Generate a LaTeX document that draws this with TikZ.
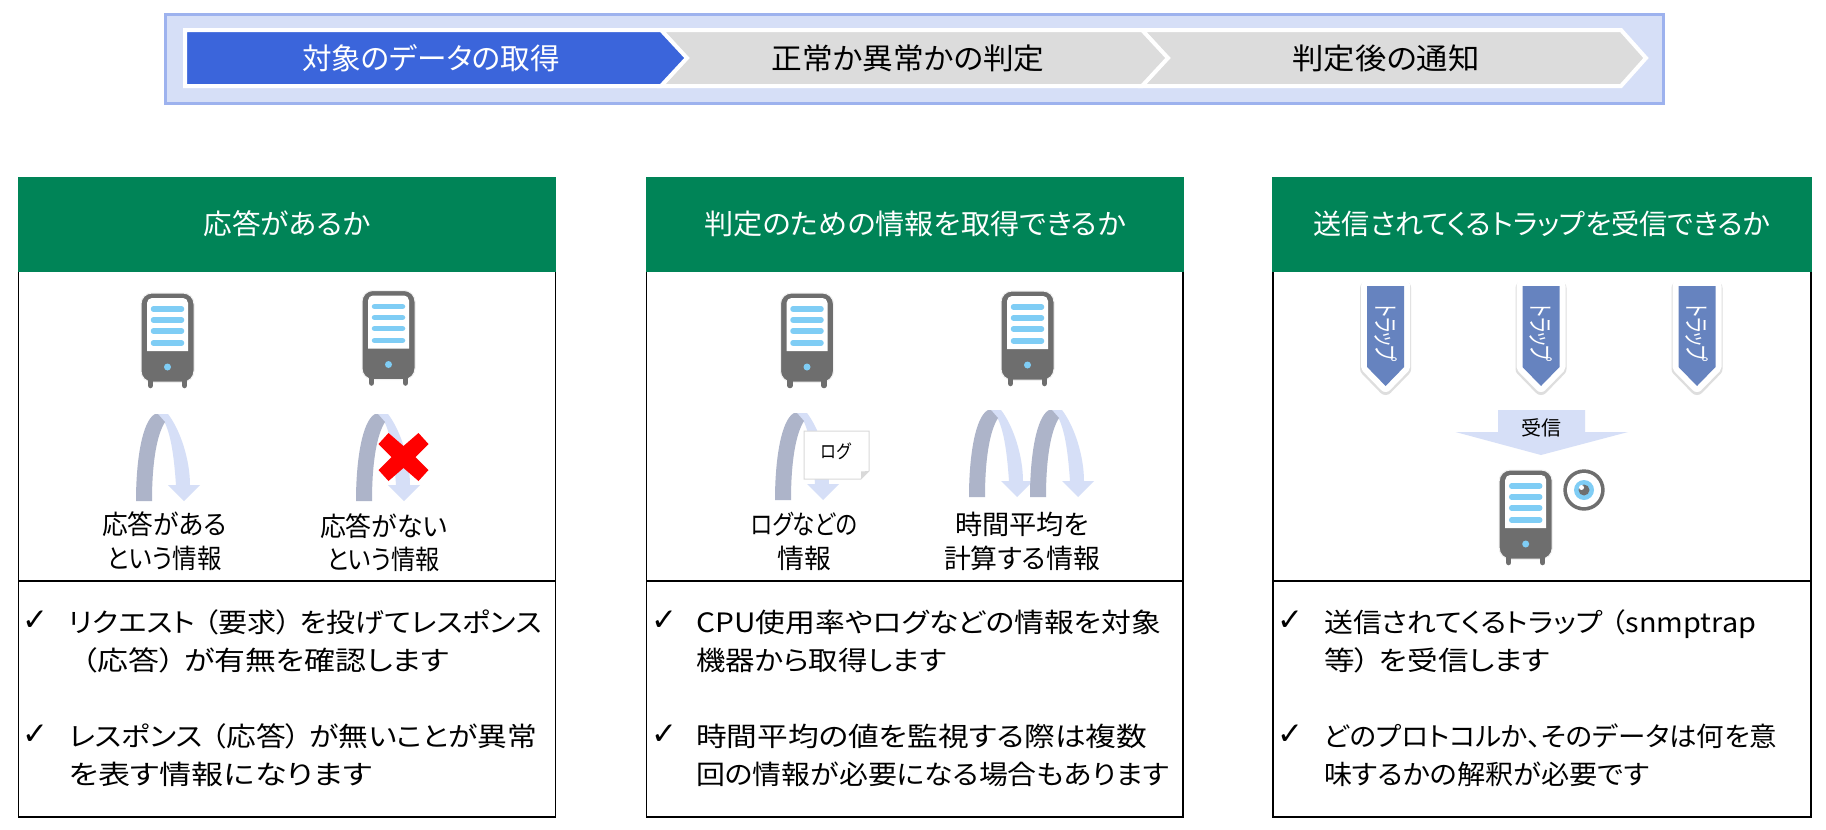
\documentclass[tikz,border=0pt]{standalone}
\usepackage{graphicx}
\usepackage{fontspec}
\setmainfont[RawFeature={+palt}]{Noto Sans CJK JP}
\newfontfamily\symfont{DejaVu Sans}
\definecolor{bandfill}{HTML}{D6DFF7}
\definecolor{bandline}{HTML}{9DB2EE}
\definecolor{chevblue}{HTML}{3B65DB}
\definecolor{chevgray}{HTML}{DCDCDC}
\definecolor{headgreen}{HTML}{008457}
\definecolor{srvgray}{HTML}{6E6E6E}
\definecolor{srvblue}{HTML}{7FCDF5}
\definecolor{arcdark}{HTML}{ADB4C9}
\definecolor{ribblue}{HTML}{6683BF}
\newsavebox\fitbox
\newcommand\fit[2]{\sbox\fitbox{#2}\pgfmathsetmacro\fitr{#1/\the\wd\fitbox}\scalebox{\fitr}[1]{\usebox\fitbox}}
\newcommand\lp{\hspace{.3em}（}
\newcommand\rp{）\hspace{.3em}}
\tikzset{
  f27/.style={font=\fontsize{26.67}{30}\selectfont,inner sep=0pt,text height=23.5pt,text depth=3.2pt},
  f28/.style={font=\fontsize{28}{32}\selectfont,inner sep=0pt,text height=24.6pt,text depth=3.4pt,text=white},
  f29/.style={font=\fontsize{29.33}{33}\selectfont,inner sep=0pt,text height=25.8pt,text depth=3.5pt},
  f20/.style={font=\fontsize{20}{24}\selectfont,inner sep=0pt,text height=17.6pt,text depth=2.4pt},
  lefttxt/.style={f27,anchor=west},
  chk/.style={font=\symfont\fontsize{31}{34}\selectfont,inner sep=0pt},
  chev/.style={line width=4pt,draw=white,line join=miter},
  panel/.style={draw=black,line width=1.2pt},
  server/.pic={
    \fill[srvgray,draw=black!5,line width=1pt,rounded corners=11pt] (-26.5,0) rectangle (26.5,89);
    \draw[srvgray,line width=5.5pt,line cap=round] (-17,87) -- (-17,92.5) (17,87) -- (17,92.5);
    \fill[white] (-20.5,58) -- (-20.5,10) .. controls (-20.5,7) and (-18,5) .. (-15.5,5) -- (15.5,5) .. controls (18,5) and (20.5,7) .. (20.5,10) -- (20.5,58) -- cycle;
    \draw[srvblue,line width=5.5pt,line cap=round] (-14,16) -- (14,16) (-14,27) -- (14,27) (-14,38) -- (14,38) (-14,50) -- (14,50);
    \fill[srvblue] (0,74) circle[radius=3.5pt];
  },
  uturn/.pic={
    \fill[bandfill] (22,-87) -- (32,-87) .. controls (45,-70) and (54,-40) .. (54,-16) -- (64,-16) -- (48,0) -- (32,-16) -- (40,-16) .. controls (38,-45) and (35,-65) .. (29,-78) -- cycle;
    \fill[arcdark] (0,0) .. controls (0,-40) and (6,-80) .. (19,-87) -- (22,-87) -- (29,-79) .. controls (20,-65) and (16,-35) .. (16,0) -- cycle;
  },
  ribbon/.pic={
    \draw[black!13,line width=14pt,line join=round,fill=black!13] (-18.5,2) -- (18.5,2) -- (18.5,83) -- (0,102) -- (-18.5,83) -- cycle;
    \draw[white,line width=12pt,line join=round] (-18.5,0) -- (18.5,0) -- (18.5,81) -- (0,100) -- (-18.5,81) -- cycle;
    \fill[ribblue] (-18.5,0) -- (18.5,0) -- (18.5,81) -- (0,100) -- (-18.5,81) -- cycle;
  },
}
\begin{document}
\begin{tikzpicture}[x=1pt,y=-1pt]
\useasboundingbox (0,0) rectangle (1826,830);
\fill[white] (0,0) rectangle (1826,830);
% top band
\draw[fill=bandfill,draw=bandline,line width=3pt] (165.5,14.5) rectangle (1663,103);
\fill[chevgray,chev] (1142,30) -- (1621,30) -- (1646,58) -- (1621,86) -- (1142,86) -- (1167,58) -- cycle;
\fill[chevgray,chev] (661,30) -- (1142,30) -- (1168,58) -- (1142,86) -- (661,86) -- (686,58) -- cycle;
\fill[chevblue,chev] (185,30) -- (661,30) -- (687,58) -- (661,86) -- (185,86) -- cycle;
\node[f29,text=white] (c1) at (431,58) {\fit{258}{対象のデータの取得}};
\node[f29] (c2) at (908,58) {\fit{273}{正常か異常かの判定}};
\node[f29] (c3) at (1386,58) {\fit{187}{判定後の通知}};
% panels
\foreach \xa/\xb in {18.6/555.5,646.5/1183,1273/1811}{
  \fill[headgreen] (\xa-.6,177) rectangle (\xb+.6,272);
  \draw[panel] (\xa,272) -- (\xa,817) -- (\xb,817) -- (\xb,272);
  \draw[panel] (\xa,581) -- (\xb,581);
}
\node[f28] (h1) at (287,224) {\fit{166.5}{応答があるか}};
\node[f28] (h2) at (915,224) {\fit{421.5}{判定のための情報を取得できるか}};
\node[f28] (h3) at (1542,224) {\fit{456.5}{送信されてくるトラップを受信できるか}};
% panel 1 graphics
\pic at (167.5,293) {server};
\pic at (388.5,290.5) {server};
\pic at (136,501) {uturn};
\pic at (356,501) {uturn};
\fill[red] (403.5,457) ++(-15,-24) -- ++(15,13) -- ++(15,-13) -- ++(10,11) -- ++(-13,13) -- ++(13,13) -- ++(-10,11) -- ++(-15,-13) -- ++(-15,13) -- ++(-10,-11) -- ++(13,-13) -- ++(-13,-13) -- cycle;
\node[f27] (l1a) at (164.5,524) {\fit{124.6}{応答がある}};
\node[f27] (l1b) at (164.5,558) {\fit{114}{という情報}};
\node[f27] (l2a) at (383.5,526) {\fit{127}{応答がない}};
\node[f27] (l2b) at (383.5,559) {\fit{113}{という情報}};
% panel 2 graphics
\pic at (807,293) {server};
\pic at (1027.5,291) {server};
\pic at (775,500) {uturn};
\pic at (969,497) {uturn};
\pic at (1030,497) {uturn};
\draw[fill=white,draw=black!15,line width=1pt] (804,431) -- (869,431) -- (869,471) -- (861,479) -- (804,479) -- cycle;
\fill[black!15] (869,471) -- (861,471.5) -- (861,479) -- cycle;
\node[f20,font=\fontsize{18.67}{22}\selectfont] (logn) at (836,451) {\fit{30}{ログ}};
\node[f27] (l3a) at (804,524) {\fit{107}{ログなどの}};
\node[f27] (l3b) at (804,558) {\fit{53.6}{情報}};
\node[f27] (l4a) at (1022,524) {\fit{134}{時間平均を}};
\node[f27] (l4b) at (1022,558) {\fit{156}{計算する情報}};
% panel 3 graphics
\foreach \cx/\nm in {1385.6/r1,1541/r2,1697/r3}{
  \pic at (\cx,286) {ribbon};
  \node[rotate=-90,text=white,inner sep=0pt,font=\fontsize{25}{28}\selectfont] (\nm) at (\cx,333) {\fit{58}{トラップ}};
}
\fill[bandfill] (1498,410) -- (1585,410) -- (1585,432) -- (1628,432) -- (1541,455) -- (1455.5,432) -- (1498,432) -- cycle;
\node[f20] (recv) at (1541,428) {\fit{40}{受信}};
\pic at (1525.7,470) {server};
\fill[srvgray] (1584,490) circle[radius=20.7pt];
\fill[white] (1584,490) circle[radius=17pt];
\fill[srvblue] (1584,490) circle[radius=10pt];
\fill[srvgray] (1584,490) circle[radius=5.5pt];
\fill[white] (1581.5,487.5) circle[radius=2.5pt];
% body text
\foreach \cx/\yy/\nm in {35/621/k1,35/735/k2,664/621/k3,664/735/k4,1290/621/k5,1290/735/k6}{
  \node[chk] (\nm) at (\cx,\yy) {✓};
}
\node[lefttxt] (t1a) at (68.7,622) {\fit{473}{リクエスト\lp 要求\rp を投げてレスポンス}};
\node[lefttxt] (t1b) at (82,660) {\fit{367}{（応答\rp が有無を確認します}};
\node[lefttxt] (t1c) at (68.7,736) {\fit{468}{レスポンス\lp 応答\rp が無いことが異常}};
\node[lefttxt] (t1d) at (68.7,774) {\fit{303}{を表す情報になります}};
\node[lefttxt] (t2a) at (696,622) {\fit{465}{CPU使用率やログなどの情報を対象}};
\node[lefttxt] (t2b) at (696,660) {\fit{250}{機器から取得します}};
\node[lefttxt] (t2c) at (696,736) {\fit{451}{時間平均の値を監視する際は複数}};
\node[lefttxt] (t2d) at (696,774) {\fit{473}{回の情報が必要になる場合もあります}};
\node[lefttxt] (t3a) at (1324,622) {\fit{432}{送信されてくるトラップ\lp snmptrap}};
\node[lefttxt] (t3b) at (1324,660) {\fit{226}{等\rp を受信します}};
\node[lefttxt] (t3c) at (1324,736) {\fit{453}{どのプロトコルか、そのデータは何を意}};
\node[lefttxt] (t3d) at (1324,774) {\fit{325}{味するかの解釈が必要です}};
\end{tikzpicture}
\end{document}
